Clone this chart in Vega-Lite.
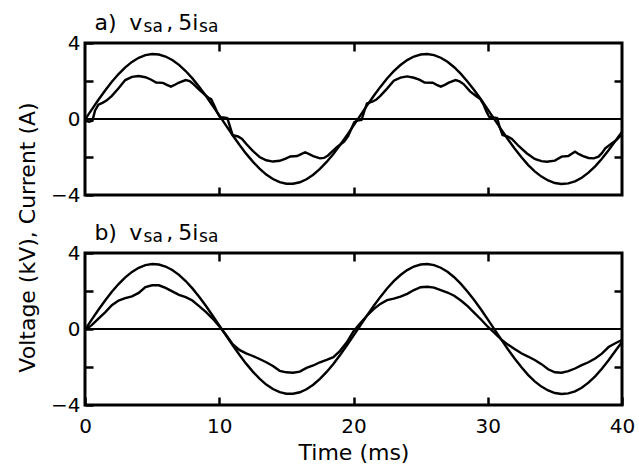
{
  "$schema": "https://vega.github.io/schema/vega-lite/v6.json",
  "background": "white",
  "padding": {"left": 14, "top": 10, "right": 5, "bottom": 5},
  "spacing": 58,
  "bounds": "flush",
  "config": {
    "font": "DejaVu Sans",
    "view": {"stroke": "black", "strokeWidth": 3},
    "axis": {
      "grid": false, "domain": false, "ticks": true, "offset": -8, "zindex": 1,
      "labelFont": "DejaVu Sans", "labelFontSize": 20, "labelColor": "black",
      "titleFont": "DejaVu Sans", "titleFontSize": 22, "titleFontWeight": "normal", "titleColor": "black",
      "tickColor": "black", "tickWidth": 2.5, "tickSize": 8, "tickOpacity": 1
    }
  },
  "datasets": {
    "volt": [
      {"t":0,"y":-0.03},{"t":0.5,"y":0.496},{"t":1,"y":1.011},{"t":1.5,"y":1.503},{"t":2,"y":1.959},{"t":2.5,"y":2.367},{"t":3,"y":2.719},{"t":3.5,"y":3.007},{"t":4,"y":3.221},{"t":4.5,"y":3.361},{"t":5,"y":3.418},{"t":5.5,"y":3.394},{"t":6,"y":3.289},{"t":6.5,"y":3.105},{"t":7,"y":2.848},{"t":7.5,"y":2.523},{"t":8,"y":2.137},{"t":8.5,"y":1.699},{"t":9,"y":1.221},{"t":9.5,"y":0.713},
      {"t":10,"y":0.19},{"t":10.5,"y":-0.339},{"t":11,"y":-0.857},{"t":11.5,"y":-1.356},{"t":12,"y":-1.823},{"t":12.5,"y":-2.244},{"t":13,"y":-2.614},{"t":13.5,"y":-2.923},{"t":14,"y":-3.161},{"t":14.5,"y":-3.326},{"t":15,"y":-3.409},{"t":15.5,"y":-3.41},{"t":16,"y":-3.329},{"t":16.5,"y":-3.17},{"t":17,"y":-2.933},{"t":17.5,"y":-2.628},{"t":18,"y":-2.258},{"t":18.5,"y":-1.837},{"t":19,"y":-1.367},{"t":19.5,"y":-0.869},
      {"t":20,"y":-0.348},{"t":20.5,"y":0.18},{"t":21,"y":0.705},{"t":21.5,"y":1.212},{"t":22,"y":1.69},{"t":22.5,"y":2.129},{"t":23,"y":2.516},{"t":23.5,"y":2.842},{"t":24,"y":3.102},{"t":24.5,"y":3.287},{"t":25,"y":3.393},{"t":25.5,"y":3.419},{"t":26,"y":3.362},{"t":26.5,"y":3.225},{"t":27,"y":3.012},{"t":27.5,"y":2.724},{"t":28,"y":2.374},{"t":28.5,"y":1.966},{"t":29,"y":1.514},{"t":29.5,"y":1.024},
      {"t":30,"y":0.506},{"t":30.5,"y":-0.022},{"t":31,"y":-0.549},{"t":31.5,"y":-1.063},{"t":32,"y":-1.551},{"t":32.5,"y":-2.005},{"t":33,"y":-2.411},{"t":33.5,"y":-2.755},{"t":34,"y":-3.032},{"t":34.5,"y":-3.235},{"t":35,"y":-3.369},{"t":35.5,"y":-3.419},{"t":36,"y":-3.39},{"t":36.5,"y":-3.278},{"t":37,"y":-3.09},{"t":37.5,"y":-2.824},{"t":38,"y":-2.494},{"t":38.5,"y":-2.096},{"t":39,"y":-1.648},{"t":39.5,"y":-1.16},{"t":40,"y":-0.68}
    ],
    "cura": [
      {"t":0,"y":-0.08},{"t":0.3,"y":-0.15},{"t":0.55,"y":-0.1},{"t":0.75,"y":0.45},{"t":1.0,"y":0.75},{"t":1.3,"y":0.85},{"t":1.6,"y":0.97},{"t":2.0,"y":1.22},{"t":2.5,"y":1.62},{"t":3.0,"y":2.05},{"t":3.5,"y":2.22},{"t":4.0,"y":2.26},{"t":4.5,"y":2.2},{"t":4.9,"y":2.08},{"t":5.3,"y":1.92},{"t":5.8,"y":1.9},{"t":6.1,"y":1.8},{"t":6.4,"y":1.7},{"t":6.7,"y":1.8},{"t":7.0,"y":1.92},{"t":7.5,"y":2.05},{"t":7.8,"y":2.0},{"t":8.1,"y":1.82},{"t":8.5,"y":1.55},{"t":8.9,"y":1.3},{"t":9.2,"y":1.12},{"t":9.4,"y":1.05},{"t":9.6,"y":0.75},{"t":9.85,"y":0.35},{"t":10.05,"y":0.1},{"t":10.3,"y":0.08},{"t":10.6,"y":0.05},{"t":10.8,"y":-0.4},
      {"t":11.0,"y":-0.85},{"t":11.4,"y":-0.92},{"t":11.7,"y":-1.05},{"t":12.0,"y":-1.3},{"t":12.5,"y":-1.68},{"t":13.0,"y":-2.0},{"t":13.5,"y":-2.17},{"t":14.0,"y":-2.24},{"t":14.5,"y":-2.2},{"t":14.9,"y":-2.1},{"t":15.3,"y":-1.97},{"t":15.8,"y":-1.95},{"t":16.1,"y":-1.85},{"t":16.4,"y":-1.75},{"t":16.7,"y":-1.85},{"t":17.0,"y":-1.95},{"t":17.5,"y":-2.07},{"t":17.8,"y":-2.05},{"t":18.1,"y":-1.92},{"t":18.4,"y":-1.72},{"t":18.8,"y":-1.46},{"t":19.3,"y":-1.19},{"t":19.6,"y":-0.9},{"t":19.85,"y":-0.5},{"t":20.05,"y":-0.18},{"t":20.3,"y":-0.08},{"t":20.6,"y":-0.05},{"t":20.8,"y":0.4},
      {"t":21.0,"y":0.82},{"t":21.4,"y":0.91},{"t":21.7,"y":1.02},{"t":22.0,"y":1.22},{"t":22.5,"y":1.6},{"t":23.0,"y":2.02},{"t":23.5,"y":2.18},{"t":24.0,"y":2.24},{"t":24.5,"y":2.17},{"t":24.9,"y":2.07},{"t":25.3,"y":1.92},{"t":25.9,"y":1.91},{"t":26.2,"y":1.8},{"t":26.5,"y":1.7},{"t":26.8,"y":1.8},{"t":27.1,"y":1.91},{"t":27.6,"y":2.05},{"t":27.9,"y":1.98},{"t":28.2,"y":1.84},{"t":28.7,"y":1.44},{"t":29.2,"y":1.17},{"t":29.45,"y":1.05},{"t":29.7,"y":0.74},{"t":29.9,"y":0.4},{"t":30.1,"y":0.12},{"t":30.4,"y":0.08},{"t":30.7,"y":0.05},{"t":30.9,"y":-0.45},
      {"t":31.1,"y":-0.84},{"t":31.5,"y":-0.93},{"t":31.8,"y":-1.05},{"t":32.3,"y":-1.42},{"t":32.9,"y":-1.8},{"t":33.5,"y":-2.1},{"t":34.0,"y":-2.22},{"t":34.4,"y":-2.25},{"t":35.0,"y":-2.19},{"t":35.5,"y":-1.98},{"t":36.0,"y":-1.95},{"t":36.2,"y":-1.85},{"t":36.5,"y":-1.72},{"t":36.8,"y":-1.85},{"t":37.1,"y":-1.95},{"t":37.5,"y":-2.05},{"t":37.9,"y":-2.07},{"t":38.25,"y":-1.98},{"t":38.5,"y":-1.8},{"t":38.75,"y":-1.54},{"t":39.25,"y":-1.28},{"t":39.6,"y":-1.1},{"t":39.8,"y":-0.95},{"t":40.0,"y":-0.75}
    ],
    "curb": [
      {"t":0,"y":-0.05},{"t":0.5,"y":0.2},{"t":1,"y":0.55},{"t":1.5,"y":0.88},{"t":2,"y":1.25},{"t":2.5,"y":1.5},{"t":3,"y":1.62},{"t":3.5,"y":1.72},{"t":4,"y":1.9},{"t":4.5,"y":2.2},{"t":5,"y":2.3},{"t":5.5,"y":2.3},{"t":6,"y":2.16},{"t":6.5,"y":1.98},{"t":7,"y":1.8},{"t":7.5,"y":1.68},{"t":8,"y":1.5},{"t":8.5,"y":1.2},{"t":9,"y":0.9},{"t":9.5,"y":0.55},
      {"t":10,"y":0.15},{"t":10.5,"y":-0.3},{"t":11,"y":-0.8},{"t":11.5,"y":-1.1},{"t":12,"y":-1.28},{"t":12.5,"y":-1.42},{"t":13,"y":-1.58},{"t":13.5,"y":-1.75},{"t":14,"y":-1.95},{"t":14.5,"y":-2.2},{"t":15,"y":-2.28},{"t":15.5,"y":-2.3},{"t":16,"y":-2.24},{"t":16.5,"y":-2.05},{"t":17,"y":-1.92},{"t":17.5,"y":-1.75},{"t":18,"y":-1.62},{"t":18.5,"y":-1.48},{"t":19,"y":-1.15},{"t":19.5,"y":-0.7},
      {"t":20,"y":-0.12},{"t":20.5,"y":0.3},{"t":21,"y":0.7},{"t":21.5,"y":1.05},{"t":22,"y":1.32},{"t":22.5,"y":1.52},{"t":23,"y":1.6},{"t":23.5,"y":1.7},{"t":24,"y":1.85},{"t":24.5,"y":2.05},{"t":25,"y":2.2},{"t":25.5,"y":2.22},{"t":26,"y":2.18},{"t":26.5,"y":2.05},{"t":27,"y":1.92},{"t":27.5,"y":1.75},{"t":28,"y":1.5},{"t":28.5,"y":1.2},{"t":29,"y":0.85},{"t":29.5,"y":0.5},
      {"t":30,"y":0.12},{"t":30.5,"y":-0.2},{"t":31,"y":-0.55},{"t":31.5,"y":-0.82},{"t":32,"y":-1.05},{"t":32.5,"y":-1.28},{"t":33,"y":-1.45},{"t":33.5,"y":-1.63},{"t":34,"y":-1.85},{"t":34.5,"y":-2.12},{"t":35,"y":-2.28},{"t":35.5,"y":-2.3},{"t":36,"y":-2.22},{"t":36.5,"y":-2.08},{"t":37,"y":-1.9},{"t":37.5,"y":-1.75},{"t":38,"y":-1.55},{"t":38.5,"y":-1.3},{"t":39,"y":-0.95},{"t":39.5,"y":-0.75},{"t":40,"y":-0.58}
    ]
  },
  "vconcat": [
    {
      "width": 537, "height": 152,
      "resolve": {"axis": {"x": "independent", "y": "independent"}},
      "layer": [
        {
          "data": {"name": "volt"},
          "mark": {"type": "line", "color": "black", "strokeWidth": 2.4},
          "encoding": {
            "x": {"field": "t", "type": "quantitative", "scale": {"domain": [0, 40], "nice": false},
                  "axis": {"orient": "bottom", "values": [10, 20, 30], "labels": false, "title": null}},
            "y": {"field": "y", "type": "quantitative", "scale": {"domain": [-4, 4], "nice": false},
                  "axis": {"orient": "left", "values": [-4, -2, 0, 2, 4], "labelExpr": "abs(datum.value) == 2 ? '' : datum.label",
                           "labelPadding": 5, "labelBaseline": "middle",
                           "title": "Voltage (kV), Current (A)", "titleAngle": 270, "titleAlign": "center", "titleBaseline": "alphabetic",
                           "titleX": -59, "titleY": 194}}
          }
        },
        {
          "data": {"name": "cura"},
          "mark": {"type": "line", "color": "black", "strokeWidth": 2.4},
          "encoding": {
            "x": {"field": "t", "type": "quantitative", "scale": {"domain": [0, 40], "nice": false},
                  "axis": {"orient": "top", "values": [10, 20, 30], "labels": false, "title": null}},
            "y": {"field": "y", "type": "quantitative", "scale": {"domain": [-4, 4], "nice": false},
                  "axis": {"orient": "right", "values": [-2, 2], "labels": false, "title": null}}
          }
        },
        {
          "data": {"values": [{}]},
          "mark": {"type": "rule", "color": "black", "strokeWidth": 1.8},
          "encoding": {"y": {"datum": 0, "type": "quantitative", "scale": {"domain": [-4, 4], "nice": false}, "axis": null}}
        },
        {
          "data": {"values": [{}]},
          "mark": {"type": "text", "text": "a)", "align": "left", "baseline": "alphabetic", "fontSize": 22, "dy": -13, "color": "black"},
          "encoding": {"x": {"datum": 0.7, "type": "quantitative", "axis": null}, "y": {"datum": 4, "type": "quantitative", "axis": null}}
        },
        {
          "data": {"values": [{}]},
          "mark": {"type": "text", "text": "v", "align": "left", "baseline": "alphabetic", "fontSize": 22, "dy": -13, "color": "black"},
          "encoding": {"x": {"datum": 3.3, "type": "quantitative", "axis": null}, "y": {"datum": 4, "type": "quantitative", "axis": null}}
        },
        {
          "data": {"values": [{}]},
          "mark": {"type": "text", "text": "sa", "align": "left", "baseline": "alphabetic", "fontSize": 17, "dy": -11, "color": "black"},
          "encoding": {"x": {"datum": 4.36, "type": "quantitative", "axis": null}, "y": {"datum": 4, "type": "quantitative", "axis": null}}
        },
        {
          "data": {"values": [{}]},
          "mark": {"type": "text", "text": ",", "align": "left", "baseline": "alphabetic", "fontSize": 22, "dy": -13, "color": "black"},
          "encoding": {"x": {"datum": 6.05, "type": "quantitative", "axis": null}, "y": {"datum": 4, "type": "quantitative", "axis": null}}
        },
        {
          "data": {"values": [{}]},
          "mark": {"type": "text", "text": "5i", "align": "left", "baseline": "alphabetic", "fontSize": 22, "dy": -13, "color": "black"},
          "encoding": {"x": {"datum": 6.95, "type": "quantitative", "axis": null}, "y": {"datum": 4, "type": "quantitative", "axis": null}}
        },
        {
          "data": {"values": [{}]},
          "mark": {"type": "text", "text": "sa", "align": "left", "baseline": "alphabetic", "fontSize": 17, "dy": -11, "color": "black"},
          "encoding": {"x": {"datum": 8.5, "type": "quantitative", "axis": null}, "y": {"datum": 4, "type": "quantitative", "axis": null}}
        }
      ]
    },
    {
      "width": 537, "height": 152,
      "resolve": {"axis": {"x": "independent", "y": "independent"}},
      "layer": [
        {
          "data": {"name": "volt"},
          "mark": {"type": "line", "color": "black", "strokeWidth": 2.4},
          "encoding": {
            "x": {"field": "t", "type": "quantitative", "scale": {"domain": [0, 40], "nice": false},
                  "axis": {"orient": "bottom", "values": [0, 10, 20, 30, 40], "labelPadding": 27, "labelBaseline": "alphabetic", "labelFlush": false,
                           "title": "Time (ms)", "titleBaseline": "alphabetic", "titleY": 62}},
            "y": {"field": "y", "type": "quantitative", "scale": {"domain": [-4, 4], "nice": false},
                  "axis": {"orient": "left", "values": [-4, -2, 0, 2, 4], "labelExpr": "abs(datum.value) == 2 ? '' : datum.label",
                           "labelPadding": 5, "labelBaseline": "middle", "title": null}}
          }
        },
        {
          "data": {"name": "curb"},
          "mark": {"type": "line", "color": "black", "strokeWidth": 2.4},
          "encoding": {
            "x": {"field": "t", "type": "quantitative", "scale": {"domain": [0, 40], "nice": false},
                  "axis": {"orient": "top", "values": [10, 20, 30], "labels": false, "title": null}},
            "y": {"field": "y", "type": "quantitative", "scale": {"domain": [-4, 4], "nice": false},
                  "axis": {"orient": "right", "values": [-2, 2], "labels": false, "title": null}}
          }
        },
        {
          "data": {"values": [{}]},
          "mark": {"type": "rule", "color": "black", "strokeWidth": 1.8},
          "encoding": {"y": {"datum": 0, "type": "quantitative", "scale": {"domain": [-4, 4], "nice": false}, "axis": null}}
        },
        {
          "data": {"values": [{}]},
          "mark": {"type": "text", "text": "b)", "align": "left", "baseline": "alphabetic", "fontSize": 22, "dy": -13, "color": "black"},
          "encoding": {"x": {"datum": 0.7, "type": "quantitative", "axis": null}, "y": {"datum": 4, "type": "quantitative", "axis": null}}
        },
        {
          "data": {"values": [{}]},
          "mark": {"type": "text", "text": "v", "align": "left", "baseline": "alphabetic", "fontSize": 22, "dy": -13, "color": "black"},
          "encoding": {"x": {"datum": 3.3, "type": "quantitative", "axis": null}, "y": {"datum": 4, "type": "quantitative", "axis": null}}
        },
        {
          "data": {"values": [{}]},
          "mark": {"type": "text", "text": "sa", "align": "left", "baseline": "alphabetic", "fontSize": 17, "dy": -11, "color": "black"},
          "encoding": {"x": {"datum": 4.36, "type": "quantitative", "axis": null}, "y": {"datum": 4, "type": "quantitative", "axis": null}}
        },
        {
          "data": {"values": [{}]},
          "mark": {"type": "text", "text": ",", "align": "left", "baseline": "alphabetic", "fontSize": 22, "dy": -13, "color": "black"},
          "encoding": {"x": {"datum": 6.05, "type": "quantitative", "axis": null}, "y": {"datum": 4, "type": "quantitative", "axis": null}}
        },
        {
          "data": {"values": [{}]},
          "mark": {"type": "text", "text": "5i", "align": "left", "baseline": "alphabetic", "fontSize": 22, "dy": -13, "color": "black"},
          "encoding": {"x": {"datum": 6.95, "type": "quantitative", "axis": null}, "y": {"datum": 4, "type": "quantitative", "axis": null}}
        },
        {
          "data": {"values": [{}]},
          "mark": {"type": "text", "text": "sa", "align": "left", "baseline": "alphabetic", "fontSize": 17, "dy": -11, "color": "black"},
          "encoding": {"x": {"datum": 8.5, "type": "quantitative", "axis": null}, "y": {"datum": 4, "type": "quantitative", "axis": null}}
        }
      ]
    }
  ]
}
